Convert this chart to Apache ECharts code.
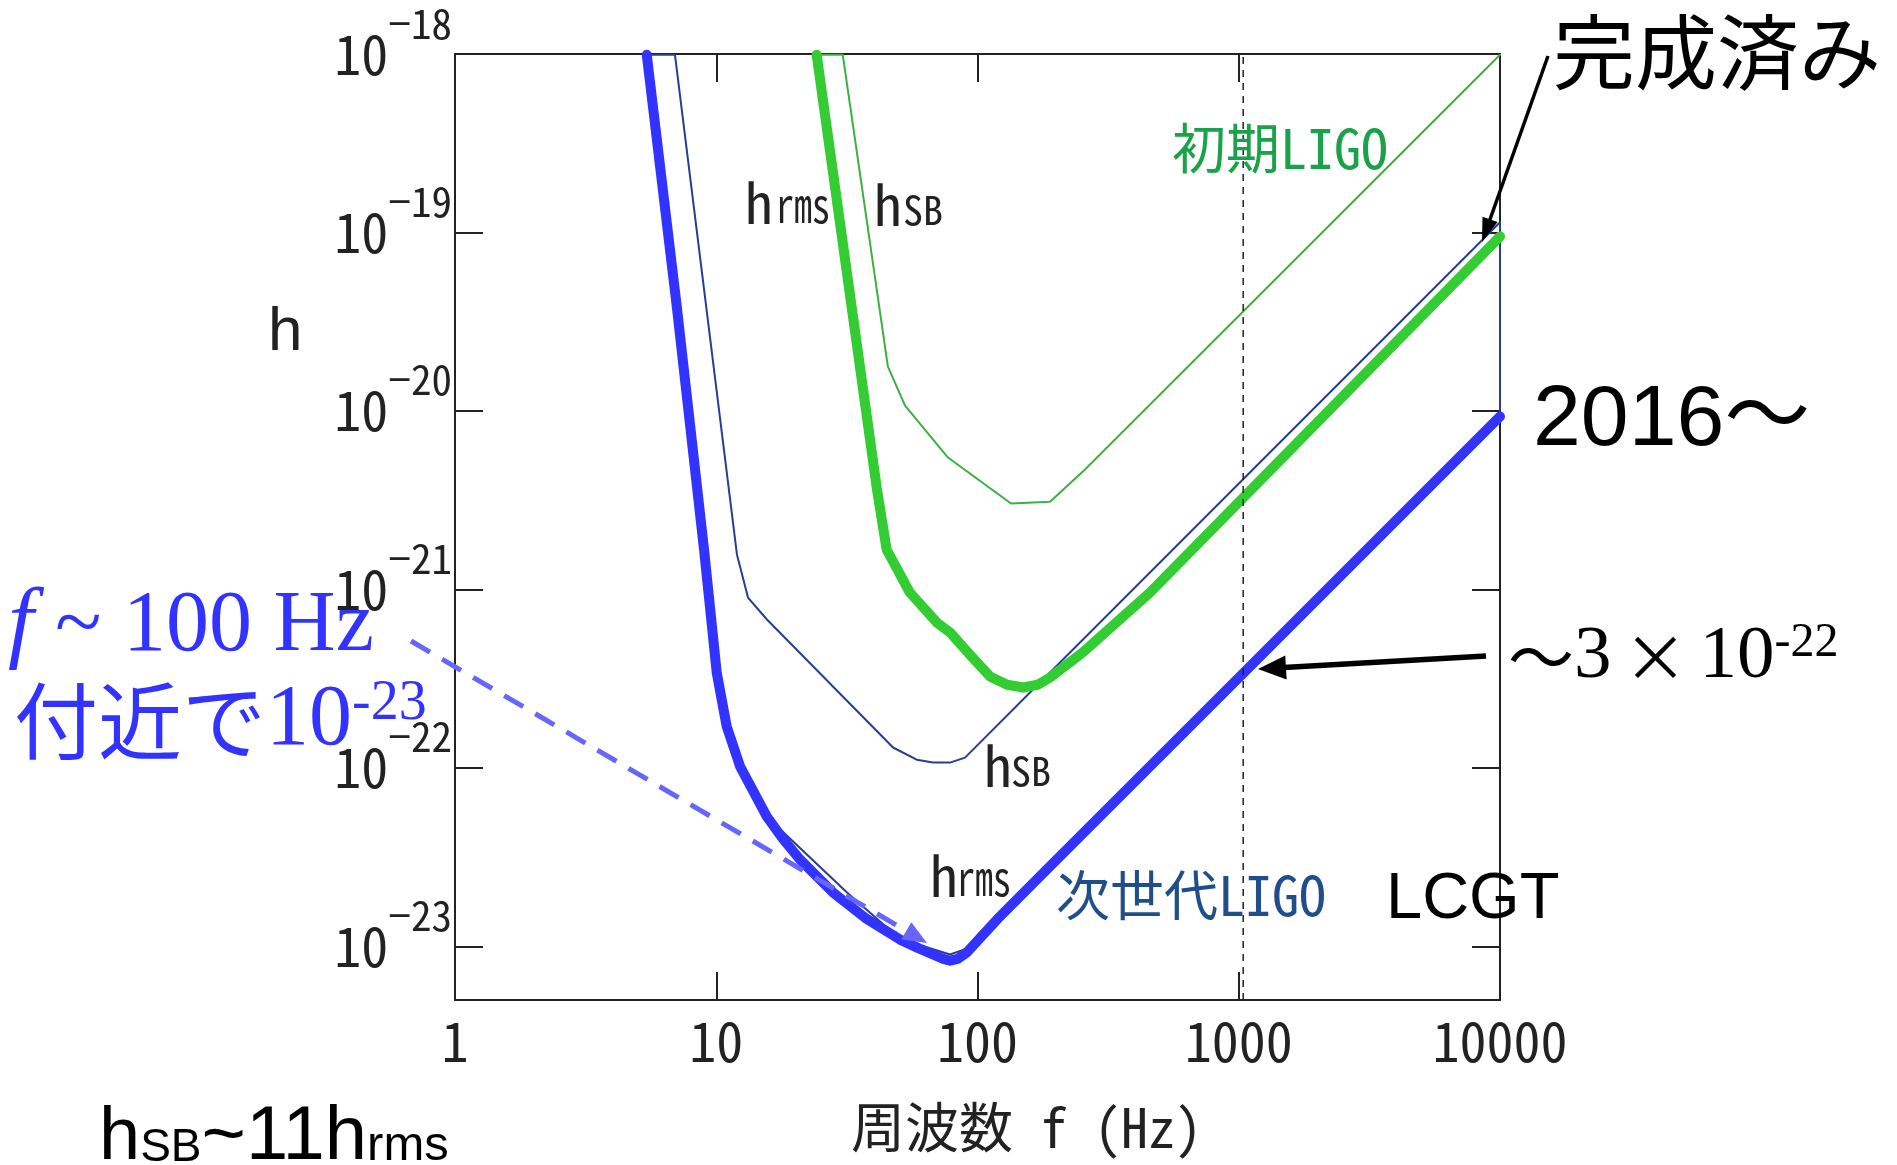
<!DOCTYPE html>
<html><head><meta charset="utf-8">
<script src="https://cdn.jsdelivr.net/npm/echarts@6/dist/echarts.min.js"></script>
<style>html,body{margin:0;padding:0;background:#fff}#c{width:1897px;height:1165px}</style>
</head><body><div id="c"></div>
<script>
// ---------- data ----------
const xTickLabels = ['1', '10', '100', '1000', '10000'];
const yTickExponents = [-18, -19, -20, -21, -22, -23];

// Next-generation LIGO / LCGT : h_rms (thick blue)
const blueRmsF = [5.42, 7.06, 8.98, 9.46, 10.04, 10.96, 12.33, 14.0, 15.6, 18.0, 20.9, 28.0, 37.7, 50.5, 60.0, 67.5, 74.0, 78.5, 84.0, 90.9, 121.9, 189.5, 1000, 10000];
const blueRmsH = [9.9e-19, 3.86e-20, 1.67e-21, 8.0e-22, 3.42e-22, 1.71e-22, 1.02e-22, 7.2e-23, 5.35e-23, 4.0e-23, 3.07e-23, 2.0e-23, 1.42e-23, 1.09e-23, 9.7e-24, 9.0e-24, 8.5e-24, 8.3e-24, 8.5e-24, 9.2e-24, 1.47e-23, 2.81e-23, 3.2e-22, 9.3e-21];

// Next-generation LIGO : thin h_rms outline
const blueRmsThinF = [5.42, 7.06, 8.98, 9.46, 10.04, 10.96, 12.33, 15.6, 16.49, 31.67, 50.5, 78.5, 90.9, 121.9, 189.5, 10000];
const blueRmsThinH = [9.9e-19, 3.86e-20, 1.67e-21, 8.0e-22, 3.42e-22, 1.71e-22, 1.02e-22, 5.35e-23, 4.94e-23, 2.0e-23, 1.1e-23, 9.0e-24, 9.7e-24, 1.47e-23, 2.81e-23, 9.3e-21];

// Next-generation LIGO : h_SB (thin navy)
const blueSbF = [5.42, 6.95, 12.0, 13.08, 13.23, 15.6, 47.5, 58.5, 67.5, 78.5, 89.6, 163.1, 10000, 10000];
const blueSbH = [9.9e-19, 9.9e-19, 1.57e-21, 9.6e-22, 9.0e-22, 6.8e-22, 1.30e-22, 1.11e-22, 1.07e-22, 1.07e-22, 1.14e-22, 2.75e-22, 1.14e-19, 9.3e-21];

// Initial LIGO : h_rms (thick green)
const greenRmsF = [24.23, 41.23, 44.9, 55.1, 69.8, 78.5, 95.0, 111.6, 130.0, 149.4, 170.0, 189.5, 253.3, 457.5, 10000];
const greenRmsH = [9.9e-19, 3.63e-21, 1.67e-21, 9.6e-22, 6.53e-22, 5.74e-22, 4.2e-22, 3.25e-22, 2.92e-22, 2.82e-22, 2.92e-22, 3.21e-22, 4.44e-22, 9.6e-22, 9.5e-20];

// Initial LIGO : h_SB (thin green)
const greenSbF = [24.23, 30.5, 45.4, 52.8, 77.1, 134.4, 189.5, 257.9, 10000];
const greenSbH = [9.9e-19, 9.9e-19, 1.77e-20, 1.07e-20, 5.48e-21, 3.03e-21, 3.1e-21, 4.7e-21, 9.9e-19];

// dashed reference frequency
const dashF = [1040, 1040];
const dashH = [5e-24, 1e-18];

// ---------- chart ----------
// h values are tiny; they are multiplied by H_SCALE before being handed to the log axis
// (the axis labels give the true exponent back).
const H_SCALE = 1e24;
const MONO = "'Noto Sans Mono CJK JP','Noto Sans CJK JP',monospace";
const SANS = "'Liberation Sans',Arial,'Noto Sans CJK JP',sans-serif";
const SERIF = "'Liberation Serif','Times New Roman',serif";
const CJK = "'Noto Sans CJK JP',sans-serif";
const X_MIN = 1, X_MAX = 10000, Y_MIN = 5e-24, Y_MAX = 1e-18;
const zip = (a, b) => a.map((v, i) => [v, b[i] * H_SCALE]);

const axisCommon = {
  type: 'log', logBase: 10,
  axisLine: { show: true, onZero: false, lineStyle: { color: '#222', width: 2 } },
  axisTick: { show: true, inside: true, length: 28, lineStyle: { color: '#222', width: 2 } },
  splitLine: { show: false }, minorTick: { show: false }, minorSplitLine: { show: false }
};

function lineS(name, data, color, width, z, extra) {
  return Object.assign({
    name, type: 'line', data, xAxisIndex: 0, yAxisIndex: 0,
    showSymbol: false, symbol: 'none', smooth: false,
    lineStyle: { color, width, cap: 'round', join: 'round' }, z, silent: true
  }, extra || {});
}

function txt(x, y, text, font, size, color, o) {
  o = o || {};
  return {
    type: 'text', x, y, scaleX: o.sx || 1, z: 100, silent: true,
    style: { text, fontFamily: font, fontSize: size, fill: color, align: o.align || 'left',
      verticalAlign: 'middle', fontStyle: o.italic ? 'italic' : 'normal', rich: o.rich }
  };
}
function arrow(x1, y1, x2, y2, w, hl, hw, color, dash) {
  const dx = x2 - x1, dy = y2 - y1, L = Math.hypot(dx, dy), ux = dx / L, uy = dy / L;
  const bx = x2 - ux * hl, by = y2 - uy * hl;
  return [
    { type: 'line', z: 100, silent: true, shape: { x1, y1, x2: bx + ux * 2, y2: by + uy * 2 },
      style: { stroke: color, lineWidth: w, lineDash: dash || null } },
    { type: 'polygon', z: 101, silent: true,
      shape: { points: [[x2, y2], [bx - uy * hw, by + ux * hw], [bx + uy * hw, by - ux * hw]] },
      style: { fill: color } }
  ];
}

const K = 0.35;
const elements = [
  // upper labels
  txt(745, 222 - K * 55, 'h', MONO, 55, '#222'),
  txt(776, 222 - K * 48, 'rms', MONO, 48, '#222', { sx: 0.75 }),
  txt(874, 224 - K * 55, 'h', MONO, 55, '#222'),
  txt(903, 224 - K * 40, 'SB', MONO, 40, '#222'),
  // lower labels
  txt(984, 785 - K * 55, 'h', MONO, 55, '#222'),
  txt(1011, 785 - K * 40, 'SB', MONO, 40, '#222'),
  txt(930, 895 - K * 55, 'h', MONO, 55, '#222'),
  txt(957, 895 - K * 48, 'rms', MONO, 48, '#222', { sx: 0.75 }),
  txt(1172, 148, '初期LIGO', MONO, 54, '#1aa24a'),
  txt(1056, 895, '次世代LIGO', MONO, 54, '#1f4e8a'),
  txt(1386, 900, 'LCGT', SANS, 65, '#000'),
  txt(1553, 52, '完成済み', CJK, 82, '#000'),
  txt(1533, 421, '2016〜', SANS, 86, '#000'),
  txt(1508, 657, '{t|〜}{m|3}{x|×}{m|10}{s|-22}', SERIF, 75, '#000', { rich: {
    t: { fontFamily: CJK, fontSize: 66, fill: '#000' },
    m: { fontFamily: SERIF, fontSize: 75, fill: '#000' },
    x: { fontFamily: CJK, fontSize: 64, fill: '#000', padding: [0, 12, 0, 12] },
    s: { fontFamily: SERIF, fontSize: 48, fill: '#000', padding: [0, 0, 28, 0] } } }),
  txt(8, 627, '{i|f}{r| ~ 100 Hz}', SERIF, 86, '#3333ff', { rich: {
    i: { fontFamily: SERIF, fontStyle: 'italic', fontSize: 92, fill: '#3333ff' },
    r: { fontFamily: SERIF, fontSize: 86, fill: '#3333ff' } } }),
  txt(14, 721, '{c|付近で}{m|10}{s|-23}', SERIF, 86, '#3333ff', { rich: {
    c: { fontFamily: CJK, fontSize: 84, fill: '#3333ff' },
    m: { fontFamily: SERIF, fontSize: 86, fill: '#3333ff' },
    s: { fontFamily: SERIF, fontSize: 56, fill: '#3333ff', padding: [0, 0, 34, 0] } } }),
  txt(99, 1138, '{h|h}{sb|SB}{r|~11h}{rms|rms}', SANS, 74, '#000', { rich: {
    h: { fontFamily: SANS, fontSize: 74, fill: '#000', verticalAlign: 'bottom' },
    sb: { fontFamily: SANS, fontSize: 46, fill: '#000', verticalAlign: 'bottom', padding: [0, 0, 5, 0] },
    r: { fontFamily: SANS, fontSize: 76, fill: '#000', verticalAlign: 'bottom' },
    rms: { fontFamily: SANS, fontSize: 49, fill: '#000', verticalAlign: 'bottom', padding: [0, 0, 5, 0] } } }),
  // axis names
  txt(268, 353 - 0.32 * 62, 'h', SANS, 62, '#222'),
  txt(851, 1127, '周波数 f (Hz)', MONO, 54, '#222'),
  // arrows
  ...arrow(1548, 56, 1482, 242, 3.5, 24, 8, '#000'),
  ...arrow(1486, 656, 1258, 669, 5.5, 28, 12, '#000'),
  ...arrow(411, 641, 927, 943, 5, 24, 10, '#6666ff', [22, 14])
];

const option = {
  animation: false,
  backgroundColor: '#fff',
  grid: { left: 455, top: 54, width: 1045, height: 946 },
  xAxis: [
    Object.assign({}, axisCommon, { min: X_MIN, max: X_MAX, position: 'bottom',
      axisLabel: { show: true, margin: 14, fontFamily: MONO, fontSize: 54, color: '#222',
        formatter: v => { const e = Math.log10(v), r = Math.round(e); return Math.abs(e - r) < 0.01 && xTickLabels[r] ? xTickLabels[r] : ''; } } }),
    Object.assign({}, axisCommon, { min: X_MIN, max: X_MAX, position: 'top', axisLabel: { show: false } })
  ],
  yAxis: [
    Object.assign({}, axisCommon, { min: Y_MIN * H_SCALE, max: Y_MAX * H_SCALE, position: 'left',
      axisLabel: { show: true, margin: 3,
        formatter: v => { const e = Math.log10(v / H_SCALE), r = Math.round(e);
          if (Math.abs(e - r) > 0.01 || yTickExponents.indexOf(r) < 0) return '';
          return '{b|10}{s|−' + (-r) + '}'; },
        rich: { b: { fontFamily: MONO, fontSize: 54, color: '#222' },
                s: { fontFamily: MONO, fontSize: 41, color: '#222', padding: [0, 0, 62, 0] } } } }),
    Object.assign({}, axisCommon, { min: Y_MIN * H_SCALE, max: Y_MAX * H_SCALE, position: 'right', axisLabel: { show: false } })
  ],
  series: [
    lineS('初期LIGO hSB', zip(greenSbF, greenSbH), '#3cb043', 2, 2),
    lineS('次世代LIGO hSB', zip(blueSbF, blueSbH), '#263f93', 2, 3),
    lineS('初期LIGO hrms', zip(greenRmsF, greenRmsH), '#33cc33', 10, 4),
    lineS('次世代LIGO hrms thin', zip(blueRmsThinF, blueRmsThinH), '#263f93', 2, 5),
    lineS('LCGT hrms', zip(blueRmsF, blueRmsH), '#3333ff', 10, 6),
    lineS('1kHz', zip(dashF, dashH), '#222', 1.5, 8, { lineStyle: { color: '#222', width: 1.5, type: [7, 6] } })
  ],
  graphic: { elements }
};
const chart = echarts.init(document.getElementById('c'), null, { renderer: 'canvas' });
chart.setOption(option);
</script></body></html>
